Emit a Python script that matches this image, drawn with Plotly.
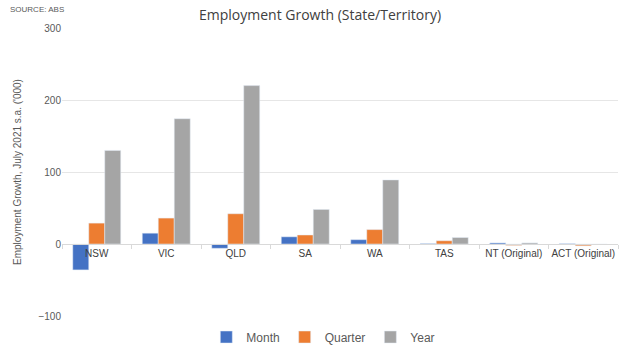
import plotly.graph_objects as go

categories = ["NSW", "VIC", "QLD", "SA", "WA", "TAS", "NT (Original)", "ACT (Original)"]
month = [-36, 15, -6, 10, 6, 0.7, 1.5, 0.5]
quarter = [29, 36, 42, 12.5, 20, 4.5, -2, -2.5]
year = [130, 174, 220, 48, 89, 9, 1.5, -0.7]
y_ticks = [-100, 0, 100, 200, 300]

fig = go.Figure()
fig.add_bar(name="Month", x=categories, y=month, marker_color="#4472C4")
fig.add_bar(name="Quarter", x=categories, y=quarter, marker_color="#ED7D31")
fig.add_bar(name="Year", x=categories, y=year, marker_color="#A5A5A5")

fig.update_layout(
    width=640, height=353,
    margin=dict(l=62, r=22, t=28, b=37, autoexpand=False),
    paper_bgcolor="white", plot_bgcolor="white",
    barmode="group", bargap=0.31, bargroupgap=0,
    font=dict(family="Liberation Sans, Arial", size=10, color="#595959"),
    title=dict(text="Employment Growth (State/Territory)", x=0.5, xanchor="center",
               y=0.957, yanchor="middle",
               font=dict(family="Open Sans", size=14, color="#404040")),
    legend=dict(orientation="h", x=0.47, xanchor="center", y=-0.073, yanchor="middle",
                font=dict(size=12, color="#595959"), itemwidth=30, traceorder="normal"),
    showlegend=True,
)
fig.update_yaxes(range=[-100, 300], tickvals=y_ticks, showgrid=True, gridcolor="#E6E6E6",
                 gridwidth=1, zeroline=False, showline=False, ticks="", automargin=False,
                 tickfont=dict(size=10, color="#595959"),
                 title=dict(text="Employment Growth, July 2021 s.a. ('000)",
                            font=dict(size=10, color="#595959"), standoff=14))
fig.update_xaxes(anchor="free", position=0.25, showline=True, linecolor="#D9D9D9",
                 linewidth=1, ticks="outside", tickson="boundaries", ticklen=4,
                 tickcolor="#D9D9D9", showgrid=False, tickangle=0, automargin=False,
                 tickfont=dict(size=10, color="#404040"))
fig.add_annotation(text="SOURCE: ABS", xref="paper", yref="paper", x=-0.097, y=1.065,
                   xanchor="left", yanchor="middle", showarrow=False,
                   font=dict(size=8, color="#595959"))

fig.write_html("out.html")
